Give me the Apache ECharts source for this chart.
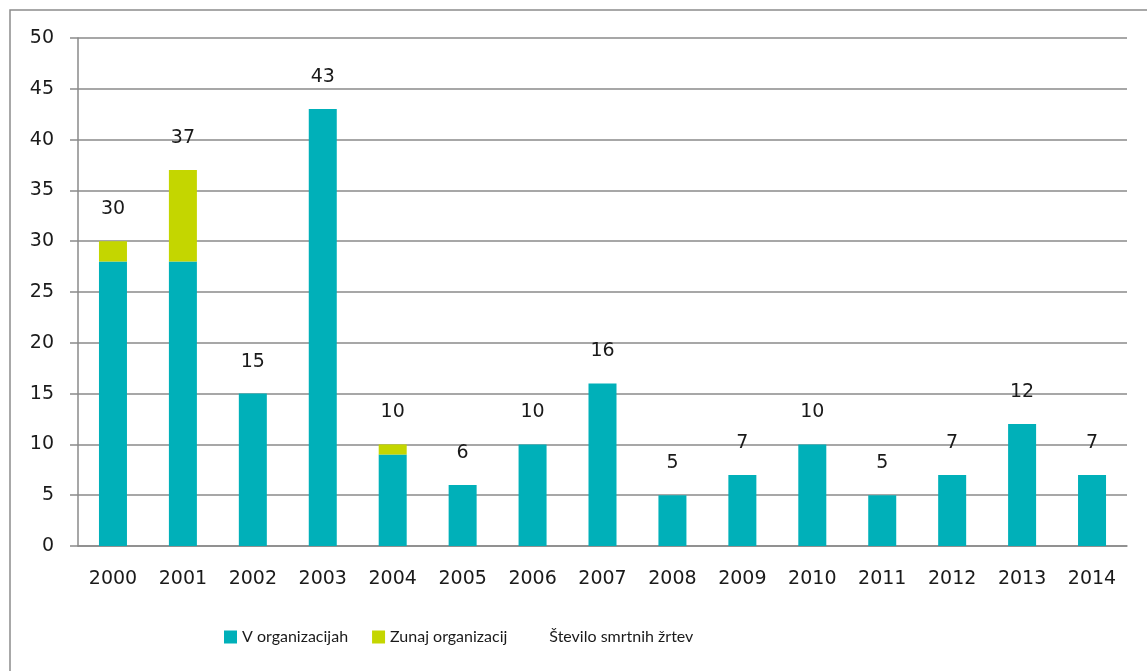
<!DOCTYPE html>
<html>
<head>
<meta charset="utf-8">
<script src="https://cdn.jsdelivr.net/npm/echarts@6/dist/echarts.min.js"></script>
<style>
  html, body { margin: 0; padding: 0; background: #fff; }
  #chart { width: 1147px; height: 671px; }
</style>
</head>
<body>
<div id="chart"></div>
<script>
// data
const years = ['2000', '2001', '2002', '2003', '2004', '2005', '2006', '2007', '2008', '2009', '2010', '2011', '2012', '2013', '2014'];
const inside = [28, 28, 15, 43, 9, 6, 10, 16, 5, 7, 10, 5, 7, 12, 7];
const outside = [2, 9, 0, 0, 1, 0, 0, 0, 0, 0, 0, 0, 0, 0, 0];
const totals = [30, 37, 15, 43, 10, 6, 10, 16, 5, 7, 10, 5, 7, 12, 7];

const numFont = "'DejaVu Sans', Verdana, sans-serif";
const gridCol = '#8a8a8a';

let chart = echarts.init(document.getElementById('chart'));
chart.setOption({
  animation: false,
  graphic: [{
    type: 'rect',
    shape: { x: 10, y: 10, width: 1160, height: 700 },
    style: { fill: 'none', stroke: '#8c8c8c', lineWidth: 1.5 }
  }],
  legend: {
    left: 219,
    top: 624,
    itemWidth: 13,
    itemHeight: 13,
    itemGap: 24,
    textStyle: { fontFamily: "'Liberation Sans Narrow', Lato, sans-serif", fontSize: 16, color: '#1a1a1a' },
    data: [
      { name: 'V organizacijah', icon: 'rect' },
      { name: 'Zunaj organizacij', icon: 'rect' },
      { name: 'Število smrtnih žrtev', icon: 'none' }
    ]
  },
  grid: { left: 78, right: 20, top: 38, bottom: 125 },
  xAxis: {
    type: 'category',
    data: years,
    axisLine: { lineStyle: { color: gridCol, width: 1.5 } },
    axisTick: { length: 8, lineStyle: { color: gridCol, width: 1.5 } },
    axisLabel: { margin: 24, fontFamily: numFont, fontSize: 19, color: '#1a1a1a' }
  },
  yAxis: {
    type: 'value',
    min: 0,
    max: 50,
    interval: 5,
    axisLine: { show: true, lineStyle: { color: gridCol, width: 1.5 } },
    axisTick: { show: true, length: 8, lineStyle: { color: gridCol, width: 1.5 } },
    splitLine: { lineStyle: { color: gridCol, width: 1.5 } },
    axisLabel: { margin: 24, fontFamily: numFont, fontSize: 19, color: '#1a1a1a' }
  },
  series: [
    {
      name: 'V organizacijah',
      type: 'bar',
      stack: 'total',
      barWidth: 28,
      itemStyle: { color: '#00b0b9' },
      data: inside
    },
    {
      name: 'Zunaj organizacij',
      type: 'bar',
      stack: 'total',
      barWidth: 28,
      itemStyle: { color: '#c4d600' },
      data: outside
    },
    {
      name: 'Število smrtnih žrtev',
      type: 'line',
      symbol: 'circle',
      symbolSize: 1,
      itemStyle: { color: 'rgba(0,0,0,0)' },
      lineStyle: { width: 0, opacity: 0 },
      label: {
        show: true,
        position: 'top',
        distance: 22,
        fontFamily: numFont,
        fontSize: 19,
        color: '#1a1a1a'
      },
      data: totals
    }
  ]
});
</script>
</body>
</html>
